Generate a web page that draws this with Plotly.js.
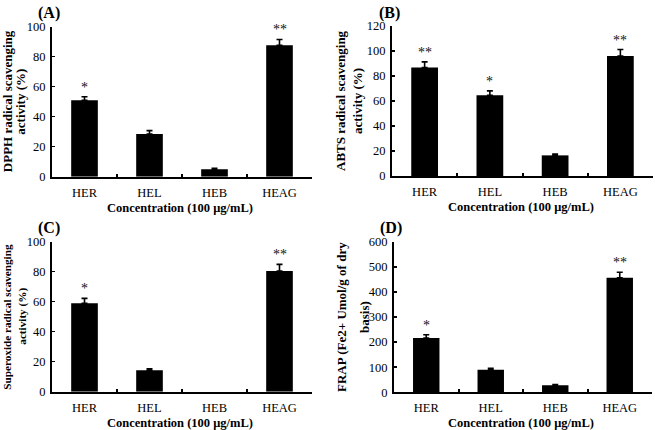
<!DOCTYPE html>
<html>
<head>
<meta charset="utf-8">
<script src="https://cdn.plot.ly/plotly-3.0.1.min.js"></script>
<style>
  html, body { margin: 0; padding: 0; background: #fff; }
  #chart { width: 655px; height: 430px; }
</style>
</head>
<body>
<div id="chart"></div>
<script>
// Extract samples
const categories = ['HER', 'HEL', 'HEB', 'HEAG'];

// (A) DPPH radical scavenging activity (%)
const dpphValues = [51, 28.4, 4.9, 87.6];
const dpphErrors = [2.3, 2.3, 0.7, 3.9];
const dpphSignif = ['*', '', '', '**'];

// (B) ABTS radical scavenging activity (%)
const abtsValues = [86.7, 64.5, 16.5, 96];
const abtsErrors = [4.6, 3.6, 1, 5.2];
const abtsSignif = ['**', '*', '', '**'];

// (C) Superoxide radical scavenging activity (%) - HEB showed no activity
const superoxideValues = [59, 14.3, 0, 80.5];
const superoxideErrors = [3.2, 1, 0, 4.4];
const superoxideSignif = ['*', '', '', '**'];

// (D) FRAP (Fe2+ Umol/g of dry basis)
const frapValues = [216, 90, 28, 456];
const frapErrors = [13, 6, 3, 22];
const frapSignif = ['*', '', '', '**'];

const W = 655, H = 430;
const FONT = 'Liberation Serif, "Times New Roman", serif';
const px = x => x / W;          // pixel -> paper x
const py = y => 1 - y / H;      // pixel -> paper y

// Panel boxes in pixels: [left, right, top, bottom]
const panels = [
  { key: '',  box: [52, 312, 26.7, 176.7], vals: dpphValues, errs: dpphErrors, sig: dpphSignif,
    range: [0, 100], dtick: 20, label: '(A)',
    ytitle: ['DPPH radical scavenging', 'activity (%)'], ytx: [7.5, 21], ytsize: 13 },
  { key: '2', box: [392, 653, 26, 176], vals: abtsValues, errs: abtsErrors, sig: abtsSignif,
    range: [0, 120], dtick: 20, label: '(B)',
    ytitle: ['ABTS radical scavenging', 'activity (%)'], ytx: [340, 357], ytsize: 13 },
  { key: '3', box: [52, 312, 241.7, 391.7], vals: superoxideValues, errs: superoxideErrors, sig: superoxideSignif,
    range: [0, 100], dtick: 20, label: '(C)',
    ytitle: ['Superoxide radical scavenging', 'activity (%)'], ytx: [7, 23], ytsize: 11.2 },
  { key: '4', box: [394, 652, 241.7, 392.3], vals: frapValues, errs: frapErrors, sig: frapSignif,
    range: [0, 600], dtick: 100, label: '(D)',
    ytitle: ['FRAP (Fe2+ Umol/g of dry', 'basis)'], ytx: [341, 364], ytsize: 13 }
];

const data = [];
const annotations = [];
const layout = {
  width: W, height: H,
  margin: { l: 0, r: 0, t: 0, b: 0 },
  paper_bgcolor: '#fff', plot_bgcolor: '#fff',
  showlegend: false,
  font: { family: FONT, color: '#000', size: 12 },
  annotations: annotations
};

panels.forEach(p => {
  const [l, r, t, b] = p.box;
  const xa = 'x' + p.key, ya = 'y' + p.key;

  // no error whisker is drawn for a sample without measurable activity
  const up = p.errs.map((e, i) => (p.vals[i] === 0 ? NaN : e));
  const down = up.map(e => (isNaN(e) ? NaN : 0));

  data.push({
    type: 'bar',
    x: categories,
    y: p.vals,
    xaxis: xa, yaxis: ya,
    width: 0.41,
    marker: { color: '#000', line: { width: 0 } },
    error_y: {
      type: 'data', symmetric: false,
      array: up, arrayminus: down,
      color: '#000', thickness: 1.6, width: 3
    },
    hoverinfo: 'x+y'
  });

  layout['xaxis' + p.key] = {
    domain: [px(l), px(r)],
    anchor: ya,
    type: 'category',
    range: [-0.5, 3.5],
    showline: true, linecolor: '#000', linewidth: 2,
    ticks: 'inside', tickson: 'boundaries', ticklen: 3, tickwidth: 2, tickcolor: '#000',
    showgrid: false, zeroline: false,
    tickfont: { family: FONT, size: 12.5, color: '#000' },
    ticklabelstandoff: 3,
    fixedrange: true
  };
  layout['yaxis' + p.key] = {
    domain: [py(b), py(t)],
    anchor: xa,
    range: p.range, dtick: p.dtick,
    showline: true, linecolor: '#000', linewidth: 2,
    ticks: 'inside', ticklen: 3, tickwidth: 1.5, tickcolor: '#000',
    showgrid: false, zeroline: false,
    tickfont: { family: FONT, size: 12.5, color: '#000' },
    ticklabelstandoff: 2,
    fixedrange: true
  };

  // significance marks above the error caps
  p.sig.forEach((s, i) => {
    if (!s) return;
    annotations.push({
      xref: xa, yref: ya, x: categories[i], y: p.vals[i] + p.errs[i],
      text: s, showarrow: false, yanchor: 'bottom', yshift: 0,
      font: { family: FONT, size: 14, color: '#111' }
    });
  });

  // panel letter
  annotations.push({
    xref: 'paper', yref: 'paper', x: px(l - 3), y: py(t - 13.5),
    text: '<b>' + p.label + '</b>', showarrow: false,
    xanchor: 'center', yanchor: 'middle',
    font: { family: FONT, size: 16, color: '#000' }
  });

  // y axis title (two centred lines)
  const ymid = (t + b) / 2;
  p.ytitle.forEach((line, k) => {
    annotations.push({
      xref: 'paper', yref: 'paper', x: px(p.ytx[k]), y: py(ymid),
      text: '<b>' + line + '</b>', showarrow: false, textangle: -90,
      xanchor: 'center', yanchor: 'middle',
      font: { family: FONT, size: p.ytsize, color: '#000' }
    });
  });

  // x axis title
  annotations.push({
    xref: 'paper', yref: 'paper', x: px((l + r) / 2 - 2), y: py(b + 31),
    text: '<b>Concentration (100 μg/mL)</b>', showarrow: false,
    xanchor: 'center', yanchor: 'middle',
    font: { family: FONT, size: 12.5, color: '#000' }
  });
});

Plotly.newPlot('chart', data, layout, { displayModeBar: false, staticPlot: true });
</script>
</body>
</html>
